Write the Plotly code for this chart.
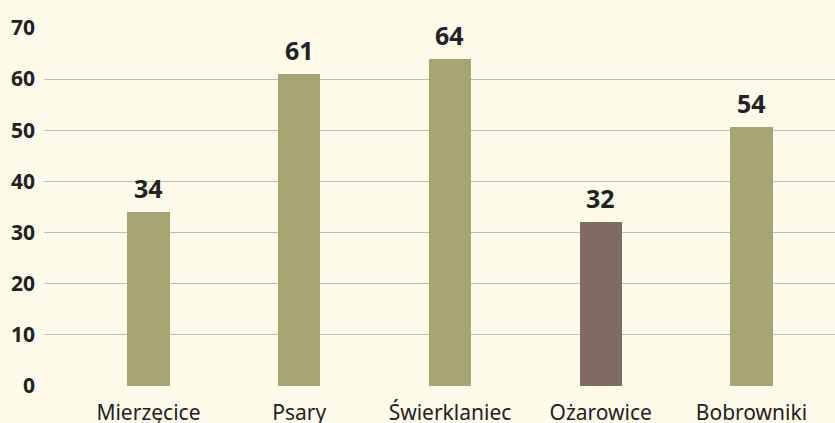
import plotly.graph_objects as go

categories = ["Mierzęcice", "Psary", "Świerklaniec", "Ożarowice", "Bobrowniki"]
bar_values = [34, 61, 64, 32, 50.6]
value_labels = ["34", "61", "64", "32", "54"]
bar_colors = ["#a8a574", "#a8a574", "#a8a574", "#806a62", "#a8a574"]
y_ticks = [0, 10, 20, 30, 40, 50, 60, 70]

FONT = "Noto Sans"
fig = go.Figure()
fig.add_trace(go.Bar(
    x=categories, y=bar_values, marker=dict(color=bar_colors, line=dict(width=0)),
    width=0.279, hoverinfo="skip",
))
for c, v, t in zip(categories, bar_values, value_labels):
    fig.add_annotation(x=c, y=v, text=t, showarrow=False, yanchor="bottom", yshift=5,
                       font=dict(family=FONT, size=25, color="#222222", weight="bold"))

fig.update_layout(
    width=835, height=423,
    paper_bgcolor="#fefbea", plot_bgcolor="#fefbea",
    margin=dict(l=44, r=0, t=28, b=37),
    showlegend=False,
    bargap=0,
)
fig.update_xaxes(
    type="category", range=[-0.693, 4.554], showgrid=False, zeroline=False, showline=False,
    ticks="outside", ticklen=8, tickcolor="rgba(0,0,0,0)", automargin=False,
    tickfont=dict(family=FONT, size=21, color="#222222"),
)
fig.update_yaxes(
    range=[0, 70], tickvals=y_ticks, showgrid=True, gridcolor="#bcbcbc", gridwidth=1,
    zeroline=False, showline=False, ticks="", ticklabelstandoff=8, automargin=False,
    tickfont=dict(family=FONT, size=21, color="#222222", weight="bold"),
)
fig.write_html("out.html", config={"displayModeBar": False},
               post_script="document.body.style.margin='0';document.body.style.background='#fefbea';")
